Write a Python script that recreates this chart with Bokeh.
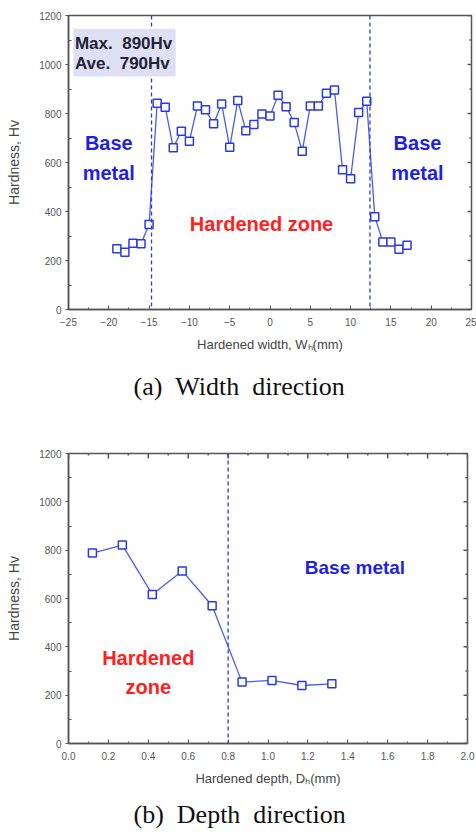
import math
from bokeh.plotting import figure
from bokeh.layouts import column
from bokeh.models import (Span, Label, BoxAnnotation, Title,
                          FixedTicker, PrintfTickFormatter)
from bokeh.embed import file_html
from bokeh.resources import INLINE

# ---------------- data ----------------
width_x = [-19, -18, -17, -16, -15, -14, -13, -12, -11, -10, -9, -8, -7, -6, -5,
           -4, -3, -2, -1, 0, 1, 2, 3, 4, 5, 6, 7, 8, 9, 10, 11, 12, 13, 14, 15, 16, 17]
width_hv = [248, 234, 270, 268, 347, 842, 826, 660, 728, 687, 831, 815, 758, 839, 662,
            853, 730, 755, 798, 790, 874, 828, 763, 646, 831, 831, 883, 896, 570, 534,
            804, 850, 379, 276, 276, 246, 262]
width_bounds = [-14.7, 12.4]

depth_x = [0.12, 0.27, 0.42, 0.57, 0.72, 0.87, 1.02, 1.17, 1.32]
depth_hv = [788, 821, 617, 714, 570, 254, 261, 240, 247]
depth_bound = 0.8

width_ticks = [-25, -20, -15, -10, -5, 0, 5, 10, 15, 20, 25]
width_minor = [-22.5, -17.5, -12.5, -7.5, -2.5, 2.5, 7.5, 12.5, 17.5, 22.5]
depth_ticks = [0.0, 0.2, 0.4, 0.6, 0.8, 1.0, 1.2, 1.4, 1.6, 1.8, 2.0]
depth_minor = [0.1, 0.3, 0.5, 0.7, 0.9, 1.1, 1.3, 1.5, 1.7, 1.9]
hv_ticks = [0, 200, 400, 600, 800, 1000, 1200]
hv_minor = [100, 300, 500, 700, 900, 1100]

AXIS = "#555555"
TICKLBL = "#555555"
LINE = "#4a5af0"
MARK = "#2a3ae0"
BLUE = "#1f1fe6"
RED = "#ff1f1f"
FONT = "Liberation Sans"
NB = "\u00a0"


def make_fig(xr, xticks, xminor, frame_w, right_b, top_b, bottom_b, frame_h,
             fmt=None, xlabel="", caption="", cap_standoff=10, top_ticks=False):
    p = figure(x_range=xr, y_range=(0, 1200), frame_width=frame_w, frame_height=frame_h,
               min_border_left=68, min_border_right=right_b, min_border_top=top_b,
               min_border_bottom=bottom_b, output_backend="svg", toolbar_location=None,
               background_fill_color="white", border_fill_color="white")
    p.xgrid.visible = False
    p.ygrid.visible = False
    p.outline_line_color = AXIS
    p.outline_line_width = 1.5

    p.xaxis.ticker = FixedTicker(ticks=xticks, minor_ticks=xminor)
    p.yaxis.ticker = FixedTicker(ticks=hv_ticks, minor_ticks=hv_minor)
    if fmt:
        p.xaxis.formatter = PrintfTickFormatter(format=fmt)
    for ax in (p.xaxis[0], p.yaxis[0]):
        ax.axis_line_color = AXIS
        ax.axis_line_width = 1.5
        ax.major_tick_line_color = AXIS
        ax.minor_tick_line_color = AXIS
        ax.major_label_text_color = TICKLBL
        ax.major_label_text_font = FONT
        ax.major_label_text_font_size = "10px"
        ax.axis_label_text_font = FONT
        ax.axis_label_text_font_style = "normal"
        ax.axis_label_text_color = "#444444"
    p.xaxis.axis_label_text_font_size = "13px"
    p.yaxis.axis_label_text_font_size = "14px"
    p.xaxis.major_tick_in = 4
    p.xaxis.major_tick_out = 0
    p.xaxis.minor_tick_in = 2
    p.xaxis.minor_tick_out = 0
    p.xaxis.major_label_standoff = 8
    p.xaxis.axis_label = xlabel
    p.xaxis.axis_label_standoff = 8
    p.yaxis.major_tick_in = 0
    p.yaxis.major_tick_out = 3
    p.yaxis.minor_tick_in = 3
    p.yaxis.minor_tick_out = 0
    p.yaxis.major_label_standoff = 4
    p.yaxis.axis_label = "Hardness, Hv"
    p.yaxis.axis_label_standoff = 14

    # inward ticks on the right edge (and top edge for the depth chart)
    xr_end = xr[1]
    p.ray(x=[xr_end] * len(hv_ticks), y=hv_ticks, length=4, length_units="screen",
          angle=math.pi, line_color=AXIS, line_width=1.5)
    p.ray(x=[xr_end] * len(hv_minor), y=hv_minor, length=2, length_units="screen",
          angle=math.pi, line_color=AXIS, line_width=1.5)
    if top_ticks:
        p.ray(x=xticks, y=[1200] * len(xticks), length=5, length_units="screen",
              angle=-math.pi / 2, line_color=AXIS, line_width=1.5)
        p.ray(x=xminor, y=[1200] * len(xminor), length=2, length_units="screen",
              angle=-math.pi / 2, line_color=AXIS, line_width=1.5)

    t = Title(text=caption, align="left", offset=65, text_font="Liberation Serif",
              text_font_size="26px", text_font_style="normal", text_color="#111111",
              standoff=cap_standoff)
    p.add_layout(t, "below")
    return p


# ---------------- (a) width ----------------
p1 = make_fig((-25, 25), width_ticks, width_minor, 403, 5, 15, 96, 294,
              xlabel="Hardened width, W\u2095(mm)",
              caption="(a)" + NB + NB + "Width" + NB + NB + "direction",
              cap_standoff=31)
for b in width_bounds:
    p1.add_layout(Span(location=b, dimension="height", line_color=MARK,
                       line_dash="4 3", line_width=1.3))
p1.line(width_x, width_hv, line_color=LINE, line_width=1.3)
p1.scatter(width_x, width_hv, marker="square", size=8, line_color=MARK,
           fill_color="white", line_width=1.5)

p1.add_layout(BoxAnnotation(left=-24.4, right=-11.7, bottom=951, top=1146,
                            fill_color="#dfdff4", fill_alpha=1.0, line_alpha=0))
p1.add_layout(Label(x=-24.2, y=1085, text="Max." + NB + NB + "890Hv", text_align="left",
                    text_baseline="middle", text_font=FONT, text_font_style="bold",
                    text_font_size="17px", text_color="#222233"))
p1.add_layout(Label(x=-24.2, y=1004, text="Ave." + NB + NB + "790Hv", text_align="left",
                    text_baseline="middle", text_font=FONT, text_font_style="bold",
                    text_font_size="17px", text_color="#222233"))
for xx in (-20.0, 18.3):
    p1.add_layout(Label(x=xx, y=681, text="Base", text_align="center",
                        text_baseline="middle", text_font=FONT, text_font_style="bold",
                        text_font_size="20px", text_color=BLUE))
    p1.add_layout(Label(x=xx, y=559, text="metal", text_align="center",
                        text_baseline="middle", text_font=FONT, text_font_style="bold",
                        text_font_size="20px", text_color=BLUE))
p1.add_layout(Label(x=-1.05, y=347, text="Hardened zone", text_align="center",
                    text_baseline="middle", text_font=FONT, text_font_style="bold",
                    text_font_size="20px", text_color=RED))

# ---------------- (b) depth ----------------
p2 = make_fig((0, 2.0), depth_ticks, depth_minor, 399, 9, 37, 80, 290, fmt="%.1f",
              xlabel="Hardened depth, D\u2095(mm)",
              caption="(b)" + NB + NB + "Depth" + NB + NB + "direction",
              cap_standoff=18, top_ticks=True)
p2.add_layout(Span(location=depth_bound, dimension="height", line_color=MARK,
                   line_dash="4 3", line_width=1.3))
p2.line(depth_x, depth_hv, line_color=LINE, line_width=1.3)
p2.scatter(depth_x, depth_hv, marker="square", size=8, line_color=MARK,
           fill_color="white", line_width=1.5)
p2.add_layout(Label(x=1.436, y=729, text="Base metal", text_align="center",
                    text_baseline="middle", text_font=FONT, text_font_style="bold",
                    text_font_size="19px", text_color=BLUE))
p2.add_layout(Label(x=0.40, y=352, text="Hardened", text_align="center",
                    text_baseline="middle", text_font=FONT, text_font_style="bold",
                    text_font_size="20px", text_color=RED))
p2.add_layout(Label(x=0.40, y=232, text="zone", text_align="center",
                    text_baseline="middle", text_font=FONT, text_font_style="bold",
                    text_font_size="20px", text_color=RED))

layout = column(p1, p2, spacing=0)
open("out.html", "w").write(file_html(layout, INLINE))
